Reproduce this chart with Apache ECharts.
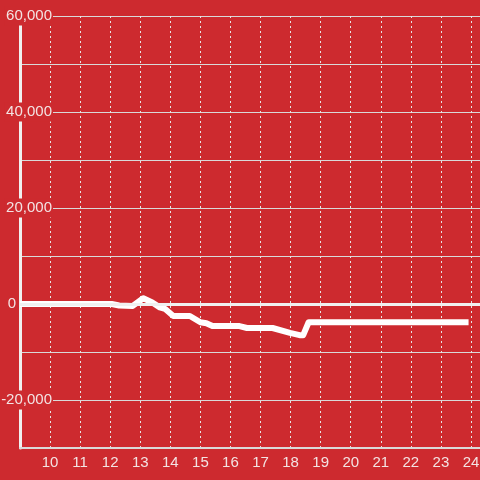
<!DOCTYPE html>
<html>
<head>
<meta charset="utf-8">
<script src="https://cdn.jsdelivr.net/npm/echarts@6/dist/echarts.min.js"></script>
<style>
  html, body { margin: 0; padding: 0; background: #cd2a2f; }
  #chart { width: 480px; height: 480px; }
</style>
</head>
<body>
<div id="chart"></div>
<script>
// hour of day -> running value
var hours  = [9.0, 12.05, 12.3, 12.75, 13.1, 13.4, 13.65, 13.82, 14.1, 14.65, 15.0, 15.2, 15.4, 16.3, 16.55, 17.4, 17.98, 18.3, 18.42, 18.6, 23.92];
var values = [0,   0,     -300, -400,  1200, 300,  -700,  -1000, -2500, -2500, -3800, -4000, -4600, -4600, -5000, -5000, -6000, -6500, -6500, -3800, -3800];

var bg = '#cd2a2f';
var chart = echarts.init(document.getElementById('chart'));

var seriesData = [];
hours.forEach(function(h, i) {
    seriesData.push([h, values[i]]);
});

var option = {
    backgroundColor: bg,
    animation: false,
    grid: {
        left: 20,
        right: 0,
        top: 16,
        bottom: 32,
        containLabel: false,
        outerBoundsMode: 'none'
    },
    xAxis: {
        type: 'value',
        min: 9,
        max: 24.3,
        interval: 1,
        axisLine: {show: true, onZero: false, lineStyle: {color: '#d9d9d9', width: 2}},
        axisTick: {show: false},
        axisLabel: {
            color: '#f3e3e3',
            fontSize: 15,
            fontFamily: 'Liberation Sans',
            margin: 7,
            formatter: function(v) {
                return (v === 9 || v % 1 !== 0) ? '' : String(v);
            }
        },
        splitLine: {
            show: true,
            lineStyle: {color: '#e6e6e6', type: [2, 3], width: 1}
        }
    },
    yAxis: {
        type: 'value',
        min: -30000,
        max: 60000,
        interval: 10000,
        axisLine: {show: true, lineStyle: {color: '#f0f0f0', width: 3}},
        axisTick: {show: false},
        axisLabel: {
            color: '#f3e3e3',
            fontSize: 15,
            fontFamily: 'Liberation Sans',
            margin: -33,
            formatter: function(v) {
                if (v % 20000 !== 0) return '';
                if (v === 0) return '{z|0}';
                return '{n|' + v.toLocaleString('en-US') + '}';
            },
            rich: {
                n: {
                    color: '#f3e3e3',
                    fontSize: 15,
                    fontFamily: 'Liberation Sans',
                    backgroundColor: bg,
                    padding: [2, 1, 2, 2]
                },
                z: {
                    color: '#f3e3e3',
                    fontSize: 15,
                    fontFamily: 'Liberation Sans',
                    padding: [0, 37, 0, 0]
                }
            }
        },
        splitLine: {
            show: true,
            lineStyle: {color: '#d9d9d9', width: 1}
        }
    },
    series: [
        {
            name: 'value',
            type: 'line',
            data: seriesData,
            showSymbol: false,
            lineStyle: {color: '#ffffff', width: 6, join: 'round', cap: 'butt'},
            markLine: {
                silent: true,
                symbol: 'none',
                label: {show: false},
                lineStyle: {color: '#f0f0f0', width: 3, type: 'solid'},
                data: [{yAxis: 0}]
            },
            z: 3
        }
    ]
};

chart.setOption(option);
</script>
</body>
</html>
